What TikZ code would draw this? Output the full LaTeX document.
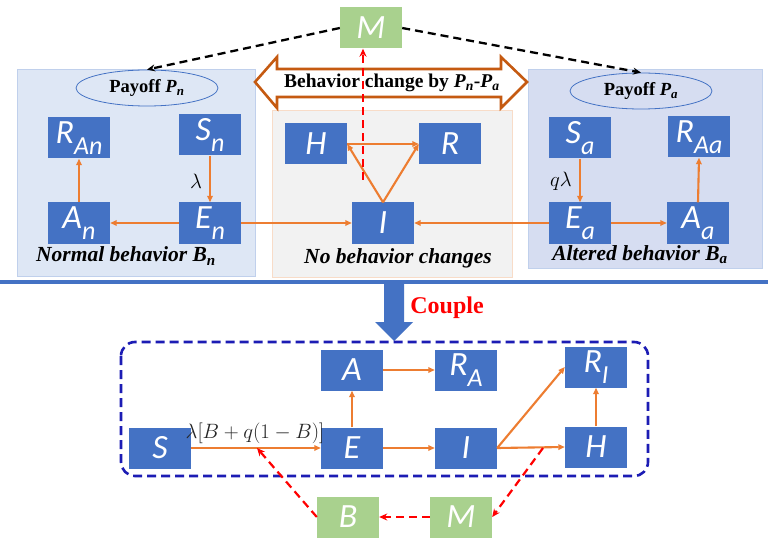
\documentclass[tikz,border=0pt]{standalone}
\usepackage{fontspec}
\setmainfont{Liberation Serif}
\newfontfamily\bxfont{Carlito}
\usetikzlibrary{arrows.meta,shapes.geometric}
\definecolor{bblue}{HTML}{4472C4}
\definecolor{mgreen}{HTML}{A9D18E}
\definecolor{orng}{HTML}{ED7D31}
\definecolor{dorng}{HTML}{C55A11}
\definecolor{lpanel}{HTML}{DEE7F5}
\definecolor{rpanel}{HTML}{D6DDF1}
\definecolor{mpanel}{HTML}{F2F2F2}
\definecolor{dblue}{HTML}{1C1CB4}
\definecolor{pborder}{HTML}{C0D0EC}
\definecolor{mborder}{HTML}{F8DCC8}
\newcommand{\bxl}[2]{#1\raisebox{-0.32em}{\fontsize{26}{26}\selectfont #2}}
\begin{document}
\begin{tikzpicture}[x=1pt,y=-1pt,
  bx/.style={rectangle, fill=bblue, minimum width=62pt, minimum height=41pt, inner sep=0pt, text=white, font=\bxfont\itshape\fontsize{34}{34}\selectfont},
  gbx/.style={bx, fill=mgreen},
  oarr/.style={draw=orng, line width=2.1pt, -{Triangle[length=6.5pt,width=5.5pt]}},
  kdash/.style={draw=black, line width=2.3pt, dash pattern=on 8pt off 5pt, -{Stealth[length=8pt,width=7pt]}},
  rdash/.style={draw=red, line width=2.2pt, dash pattern=on 8pt off 5pt, -{Stealth[length=8pt,width=7pt]}},
  ttl/.style={font=\bfseries\itshape\fontsize{21.5}{21.5}\selectfont, inner sep=0pt},
  pay/.style={ellipse, draw=bblue, line width=0.8pt, minimum width=142pt, minimum height=36pt, inner sep=0pt, font=\bfseries\fontsize{18.5}{18.5}\selectfont},
]
\useasboundingbox (0,0) rectangle (768,540);
\fill[white] (0,0) rectangle (768,540);
% panels
\draw[fill=lpanel, draw=pborder, line width=0.8pt] (17,69) rectangle (255,276);
\draw[fill=mpanel, draw=mborder, line width=0.8pt] (272,110) rectangle (512,277);
\draw[fill=rpanel, draw=pborder, line width=0.8pt] (528,69) rectangle (762,268);
% separator
\draw[bblue, line width=3.2pt] (0,282) -- (768,282);
% double arrow
\draw[dorng, line width=2.6pt, fill=white, line join=miter] (255,82) -- (277,57) -- (277,69) -- (501,69) -- (501,57) -- (527,82) -- (501,108) -- (501,97) -- (277,97) -- (277,108) -- cycle;
\node[font=\bfseries\fontsize{19.5}{19.5}\selectfont, inner sep=0pt] (bc) at (392,83) {Behavior change by \textit{P}\textsubscript{\textit{n}}-\textit{P}\textsubscript{\textit{a}}};
% top M
\node[gbx] (mt) at (371,28) {M};
% payoffs
\node[pay] (pn) at (147,88) {Payoff \textit{P}\textsubscript{\textit{n}}};
\node[pay] (pa) at (641,91) {Payoff \textit{P}\textsubscript{\textit{a}}};
\draw[kdash] (mt.west) -- (pn.north);
\draw[kdash] (mt.east) -- (pa.north);
% left panel
\node[bx] (ran) at (79,138) {\bxl{R}{An}};
\node[bx] (sn) at (210,135) {\bxl{S}{n}};
\node[bx] (an) at (79,223) {\bxl{A}{n}};
\node[bx] (en) at (210,223) {\bxl{E}{n}};
\node[font=\fontsize{21}{21}\selectfont] (lam) at (196,181) {$\lambda$};
\node[ttl] (nb) at (126,256) {Normal behavior B\textsubscript{n}};
% middle panel
\node[bx] (h) at (316,144) {H};
\node[bx] (r) at (450,144) {R};
\node[bx] (i) at (383,223) {I};
\node[ttl] (nc) at (398,258) {No behavior changes};
% right panel
\node[bx] (sa) at (580,138) {\bxl{S}{a}};
\node[bx] (raa) at (699,137) {\bxl{R}{Aa}};
\node[bx] (ea) at (580,223) {\bxl{E}{a}};
\node[bx] (aa) at (698,223) {\bxl{A}{a}};
\node[font=\fontsize{21}{21}\selectfont] (qlam) at (561,181) {$q\lambda$};
\node[ttl] (ab) at (640,255) {Altered behavior B\textsubscript{a}};
% top arrows
\draw[oarr] (sn.south) -- (en.north);
\draw[oarr] (en.west) -- (an.east);
\draw[oarr] (an.north) -- (ran.south);
\draw[oarr] (en.east) -- (i.west);
\draw[oarr] (ea.west) -- (i.east);
\draw[oarr] (sa.south) -- (ea.north);
\draw[oarr] (ea.east) -- (aa.west);
\draw[oarr] (aa.north) -- (raa.south);
\draw[oarr] (h.east) -- (r.west);
\draw[oarr] (i.north) -- (h.east);
\draw[oarr] (i.north) -- (r.west);
\coordinate (rs) at (363,180);
\draw[rdash] (rs) -- (rs |- mt.south);
% couple arrow
\fill[bblue] (384,283) -- (404,283) -- (404,322) -- (413,322) -- (394,341) -- (375,322) -- (384,322) -- cycle;
\node[text=red, font=\bfseries\fontsize{24}{24}\selectfont, inner sep=0pt] (cp) at (447,308) {Couple};
% dashed box
\draw[dblue, line width=2.6pt, dash pattern=on 9pt off 5pt, rounded corners=14pt] (121,342) rectangle (648,476);
% bottom nodes
\node[bx] (a) at (352,370) {A};
\node[bx] (ra) at (466,370) {\bxl{R}{A}};
\node[bx] (ri) at (596,367) {\bxl{R}{I}};
\node[bx] (s) at (160,448) {S};
\node[bx] (e) at (352,448) {E};
\node[bx] (ib) at (466,448) {I};
\node[bx] (hb) at (596,447) {H};
\node[gbx] (bb) at (348,517) {B};
\node[gbx] (mb) at (461,517) {M};
\node[font=\fontsize{19.5}{19.5}\selectfont, text=black!85, inner sep=0pt] (lab) at (255,433) {$\lambda[B+q(1-B)]$};
\draw[oarr] (s.east) -- (e.west);
\draw[oarr] (e.north) -- (a.south);
\draw[oarr] (a.east) -- (ra.west);
\draw[oarr] (e.east) -- (ib.west);
\draw[oarr] (ib.east) -- (hb.west);
\draw[oarr] (ib.east) -- (ri.west);
\draw[oarr] (hb.north) -- (ri.south);
\coordinate (p1) at (257,448);
\coordinate (p2) at (543,448);
\draw[rdash] (bb.west) -- (p1);
\draw[rdash] (p2) -- (mb.east);
\draw[rdash] (mb.west) -- (bb.east);
\end{tikzpicture}
\end{document}
